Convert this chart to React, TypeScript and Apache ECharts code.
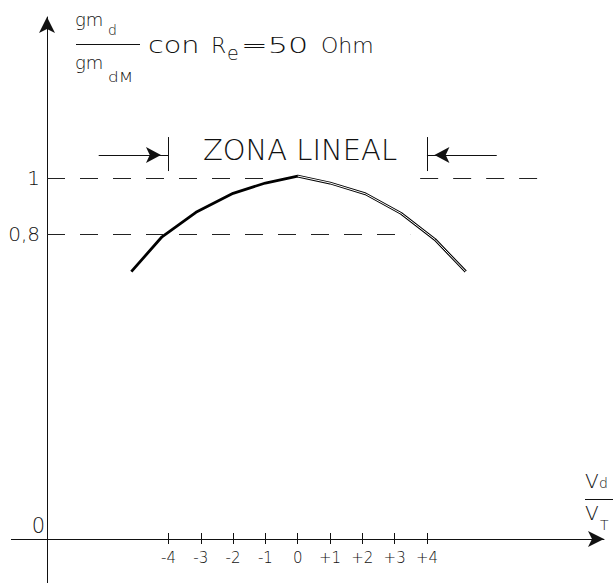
import React, { useEffect, useRef } from "react";
import * as echarts from "echarts";

// ---- data ----
const xTickValues = [-4, -3, -2, -1, 0, 1, 2, 3, 4];
const yTickValues = [0.8, 1];
const xRange = [-7.76, 9.48];
const yRange = [-0.295, 1.579];
const curveX = [-5.15, -4.2, -3.15, -2, -1, 0, 1, 2.1, 3.2, 4.25, 5.2];
const curveY = [0.665, 0.79, 0.878, 0.946, 0.983, 1.008, 0.983, 0.944, 0.874, 0.78, 0.665];
const refLevels = [1, 1, 0.8];
const refFrom = [-7.76, 3.79, -7.76];
const refTo = [-1.07, 7.41, 3.48];
const zoneEdges = [-4, 4];
const zoneArrowStart = [-6.16, 6.16];
const zoneArrowLevel = 1.084;
const zoneBarRange = [1.026, 1.148];

const FONT = "DejaVu Sans";
const W = 200;
const INK = "#111";

function txt(text: string, x: number, baseline: number, size: number, align: string = "left", sx: number = 1) {
  return {
    type: "text",
    x,
    y: baseline - 0.35 * size,
    scaleX: sx,
    silent: true,
    style: {
      text,
      fontSize: size,
      fontFamily: FONT,
      fontWeight: W,
      fill: INK,
      align,
      verticalAlign: "middle",
      textAlign: align,
      textVerticalAlign: "middle",
    },
  };
}
function seg(x1: number, y1: number, x2: number, y2: number) {
  return { type: "line", silent: true, shape: { x1, y1, x2, y2 }, style: { stroke: INK, lineWidth: 1 } };
}

export default function App() {
  const ref = useRef<HTMLDivElement>(null);
  useEffect(() => {
    if (!ref.current) return;
    const chart = echarts.init(ref.current, null, { renderer: "svg" });
    const curve = curveX.map((x, i) => [x, curveY[i]]);
    const inner = curve.filter((p) => p[0] >= 0);
    const fmtX = (v: number) => (v > 0 ? "+" + v : v < 0 ? "-" + Math.abs(v) : "0");
    const option: any = {
      animation: false,
      grid: { left: 47, right: 12, top: 17, bottom: 44 },
      xAxis: [
        {
          type: "value",
          min: xRange[0],
          max: xRange[1],
          splitLine: { show: false },
          axisLine: {
            show: true,
            onZero: false,
            symbol: ["none", "arrow"],
            symbolSize: [12, 16],
            lineStyle: { color: INK, width: 1 },
          },
          axisTick: { show: true, customValues: xTickValues, length: 5, lineStyle: { color: INK } },
          axisLabel: {
            customValues: xTickValues,
            formatter: fmtX,
            margin: 11,
            fontSize: 15,
            fontFamily: FONT,
            fontWeight: W,
            color: INK,
          },
        },
        {
          type: "value",
          position: "bottom",
          min: xRange[0],
          max: xRange[1],
          splitLine: { show: false },
          axisLine: { show: false, onZero: false },
          axisTick: { show: true, inside: true, customValues: xTickValues, length: 6, lineStyle: { color: INK } },
          axisLabel: { show: false },
        },
      ],
      yAxis: {
        type: "value",
        min: yRange[0],
        max: yRange[1],
        splitLine: { show: false },
        axisLine: {
          show: true,
          onZero: false,
          symbol: ["none", "arrow"],
          symbolSize: [12, 16],
          lineStyle: { color: INK, width: 1 },
        },
        axisTick: { show: false },
        axisLabel: {
          customValues: yTickValues,
          formatter: (v: number) => String(v).replace(".", ","),
          margin: 7,
          fontSize: 20,
          fontFamily: FONT,
          fontWeight: W,
          color: INK,
        },
      },
      series: [
        {
          type: "line",
          data: curve,
          showSymbol: false,
          symbol: "none",
          lineStyle: { color: "#000", width: 2.8 },
          z: 3,
        },
        {
          type: "line",
          data: inner,
          showSymbol: false,
          symbol: "none",
          lineStyle: { color: "#fff", width: 1.0 },
          z: 4,
        },
        {
          type: "line",
          data: [],
          markLine: {
            silent: true,
            symbol: ["none", "none"],
            label: { show: false },
            lineStyle: { color: "#222", width: 1, type: [18, 15] },
            data: refLevels.map((lv, i) => [{ coord: [refFrom[i], lv] }, { coord: [refTo[i], lv] }]),
          },
        },
        {
          type: "line",
          data: [],
          markLine: {
            silent: true,
            symbol: ["none", "arrow"],
            symbolSize: 12,
            label: { show: false },
            lineStyle: { color: INK, width: 1, type: "solid" },
            itemStyle: { color: INK },
            data: zoneEdges.map((e, i) => [
              { coord: [zoneArrowStart[i], zoneArrowLevel], symbol: "none" },
              { coord: [e, zoneArrowLevel], symbol: "arrow", symbolSize: [12, 15], symbolOffset: [0, 7.5] },
            ]),
          },
        },
        {
          type: "line",
          data: [],
          markLine: {
            silent: true,
            symbol: ["none", "none"],
            label: { show: false },
            lineStyle: { color: INK, width: 1, type: "solid" },
            data: zoneEdges.map((e) => [{ coord: [e, zoneBarRange[0]] }, { coord: [e, zoneBarRange[1]] }]),
          },
        },
      ],
      graphic: [
        // axis extensions beyond the origin
        seg(11, 539.5, 47, 539.5),
        seg(47.5, 539, 47.5, 583),
        // y-axis title
        txt("gm", 75, 26, 18),
        txt("d", 108, 35, 14),
        seg(76, 44.5, 140, 44.5),
        txt("gm", 75, 69, 18),
        txt("dM", 108, 82, 14, "left", 1.2),
        txt("con", 148, 53, 23, "left", 1.25),
        txt("R", 211, 53, 22),
        txt("e", 227, 60, 19),
        txt("=50", 241, 53, 22, "left", 1.45),
        txt("Ohm", 321, 53, 22),
        // zone label
        txt("ZONA LINEAL", 300, 160, 29, "center"),
        // origin
        txt("0", 45, 533, 21, "right"),
        // x-axis title
        txt("V", 585, 488, 20),
        txt("d", 599, 488, 14),
        seg(585, 499.5, 613, 499.5),
        txt("V", 585, 520, 20),
        txt("T", 600, 530, 14),
      ],
    };
    chart.setOption(option);
    return () => chart.dispose();
  }, []);
  return (
    <div
      ref={ref}
      style={{ position: "fixed", left: 0, top: 0, width: 616, height: 583, background: "#fff" }}
    />
  );
}
